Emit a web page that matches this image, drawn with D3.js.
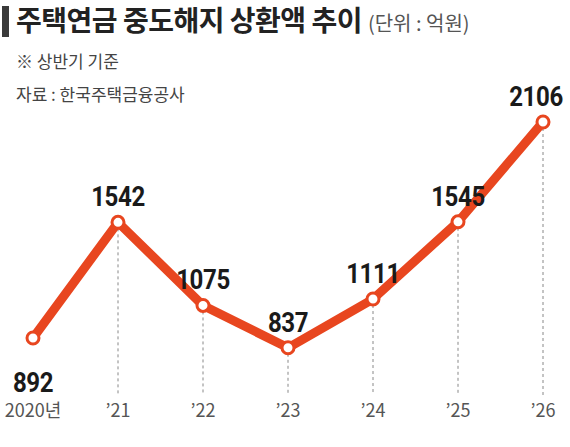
<!DOCTYPE html>
<html><head><meta charset="utf-8">
<script src="https://cdn.jsdelivr.net/npm/d3@7"></script>
<style>body{margin:0;background:#fff}</style>
</head><body>
<svg id="chart" width="570" height="447"></svg>
<script>
var years = ['2020년', '\u201921', '\u201922', '\u201923', '\u201924', '\u201925', '\u201926'];
var values = [892, 1542, 1075, 837, 1111, 1545, 2106];
var labelBelow = [true, false, false, false, false, false, false];

var svg = d3.select('#chart');
var kr = "'Noto Sans CJK KR', sans-serif";
var num = "'Roboto', sans-serif";

// title block
svg.append('rect').attr('x', 2).attr('y', 6).attr('width', 7).attr('height', 31).attr('fill', '#3a3a3a');
var t = svg.append('text').attr('x', 16).attr('y', 31).attr('font-family', kr);
t.append('tspan').attr('font-size', 28).attr('font-weight', 'bold').attr('fill', '#222').attr('letter-spacing', -0.5).text('주택연금 중도해지 상환액 추이');
t.append('tspan').attr('font-size', 20).attr('fill', '#555').attr('dx', 6).text('(단위 : 억원)');
svg.append('text').attr('x', 16).attr('y', 68).attr('font-family', kr).attr('font-size', 17).attr('fill', '#444').text('※ 상반기 기준');
svg.append('text').attr('x', 16).attr('y', 101).attr('font-family', kr).attr('font-size', 17).attr('fill', '#444').text('자료 : 한국주택금융공사');

var x = d3.scalePoint().domain(years).range([33, 543]);
var y = d3.scaleLinear().domain([892, 2106]).range([338, 122]);

// dashed drop lines
svg.selectAll('.drop').data(values.slice(1)).enter().append('line')
  .attr('x1', (d, i) => x(years[i + 1])).attr('x2', (d, i) => x(years[i + 1]))
  .attr('y1', d => y(d)).attr('y2', 395)
  .attr('stroke', '#888').attr('stroke-width', 1).attr('stroke-dasharray', '3,3');

// x labels
svg.selectAll('.xl').data(years).enter().append('text')
  .attr('x', d => x(d)).attr('y', 417).attr('text-anchor', 'middle')
  .attr('font-family', kr).attr('font-size', 18).attr('fill', '#555')
  .text(d => d);

var line = d3.line().x((d, i) => x(years[i])).y(d => y(d));
svg.append('path').datum(values).attr('d', line)
  .attr('fill', 'none').attr('stroke', '#e8461f').attr('stroke-width', 9).attr('stroke-linejoin', 'round');

svg.selectAll('.pt').data(values).enter().append('circle')
  .attr('cx', (d, i) => x(years[i])).attr('cy', d => y(d)).attr('r', 6)
  .attr('fill', '#fff').attr('stroke', '#e8461f').attr('stroke-width', 3);

// value labels, horizontally condensed
svg.selectAll('.vl').data(values).enter().append('text')
  .attr('transform', (d, i) => {
    var lx = Math.min(x(years[i]), 536);
    var ly = labelBelow[i] ? y(d) + 54 : y(d) - 16;
    return 'translate(' + lx + ',' + ly + ') scale(0.86,1)';
  })
  .attr('text-anchor', 'middle').attr('font-family', num).attr('font-weight', 'bold')
  .attr('font-size', 28).attr('letter-spacing', -0.5).attr('fill', '#1a1a1a').text(d => d);
</script>
</body></html>
